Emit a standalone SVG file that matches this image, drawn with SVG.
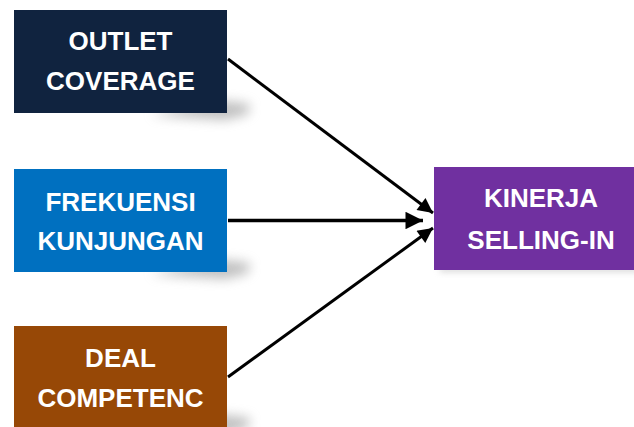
<svg xmlns="http://www.w3.org/2000/svg" width="634" height="427" viewBox="0 0 634 427">
  <defs>
    <style>
      .lbl { font-family: "Liberation Sans", Arial, sans-serif; font-weight: bold; font-size: 26px; fill: #ffffff; text-anchor: middle; }
      .wire { stroke: #000000; stroke-width: 3; fill: none; marker-end: url(#head); }
      .shade { fill: #8c8c8c; opacity: 0.55; filter: url(#soft); }
    </style>
    <filter id="soft" x="-50%" y="-100%" width="200%" height="300%">
      <feGaussianBlur stdDeviation="6"/>
    </filter>
    <filter id="softer" x="-20%" y="-100%" width="140%" height="300%">
      <feGaussianBlur stdDeviation="3"/>
    </filter>
    <marker id="head" viewBox="0 0 10 10" refX="10" refY="5" markerWidth="5.5" markerHeight="5" orient="auto" markerUnits="strokeWidth">
      <path d="M0,0 L10,5 L0,10 z" fill="#000000"/>
    </marker>
  </defs>

  <!-- cast shadows behind the boxes -->
  <g id="shadows">
    <polygon class="shade" points="150,115 215,100 250,104 248,114 225,120"/>
    <polygon class="shade" points="150,274 215,259 250,263 248,273 225,279"/>
    <polygon class="shade" points="150,429 215,414 250,418 248,428 225,434"/>
    <rect x="440" y="266" width="200" height="6" fill="#b0b0b0" opacity="0.5" filter="url(#softer)"/>
  </g>

  <g id="outlet-coverage">
    <rect x="14" y="10" width="213" height="103" fill="#10233f"/>
    <text class="lbl" x="120.5" y="50">OUTLET</text>
    <text class="lbl" x="120.5" y="90">COVERAGE</text>
  </g>

  <g id="frekuensi-kunjungan">
    <rect x="14" y="169" width="213" height="103" fill="#0070c0"/>
    <text class="lbl" x="120.5" y="211">FREKUENSI</text>
    <text class="lbl" x="120.5" y="250">KUNJUNGAN</text>
  </g>

  <g id="deal-competenc">
    <rect x="14" y="326" width="213" height="103" fill="#974806"/>
    <text class="lbl" x="120.5" y="367">DEAL</text>
    <text class="lbl" x="120.5" y="407">COMPETENC</text>
  </g>

  <g id="kinerja-selling-in">
    <rect x="434" y="167" width="214" height="103" fill="#7030a0"/>
    <text class="lbl" x="541" y="207">KINERJA</text>
    <text class="lbl" x="541" y="249">SELLING-IN</text>
  </g>

  <g id="connectors">
    <line class="wire" x1="228" y1="59" x2="433" y2="213"/>
    <line class="wire" x1="228" y1="220.5" x2="423" y2="220.5" style="stroke-width:3.5"/>
    <line class="wire" x1="228" y1="377" x2="433" y2="228"/>
  </g>
</svg>
